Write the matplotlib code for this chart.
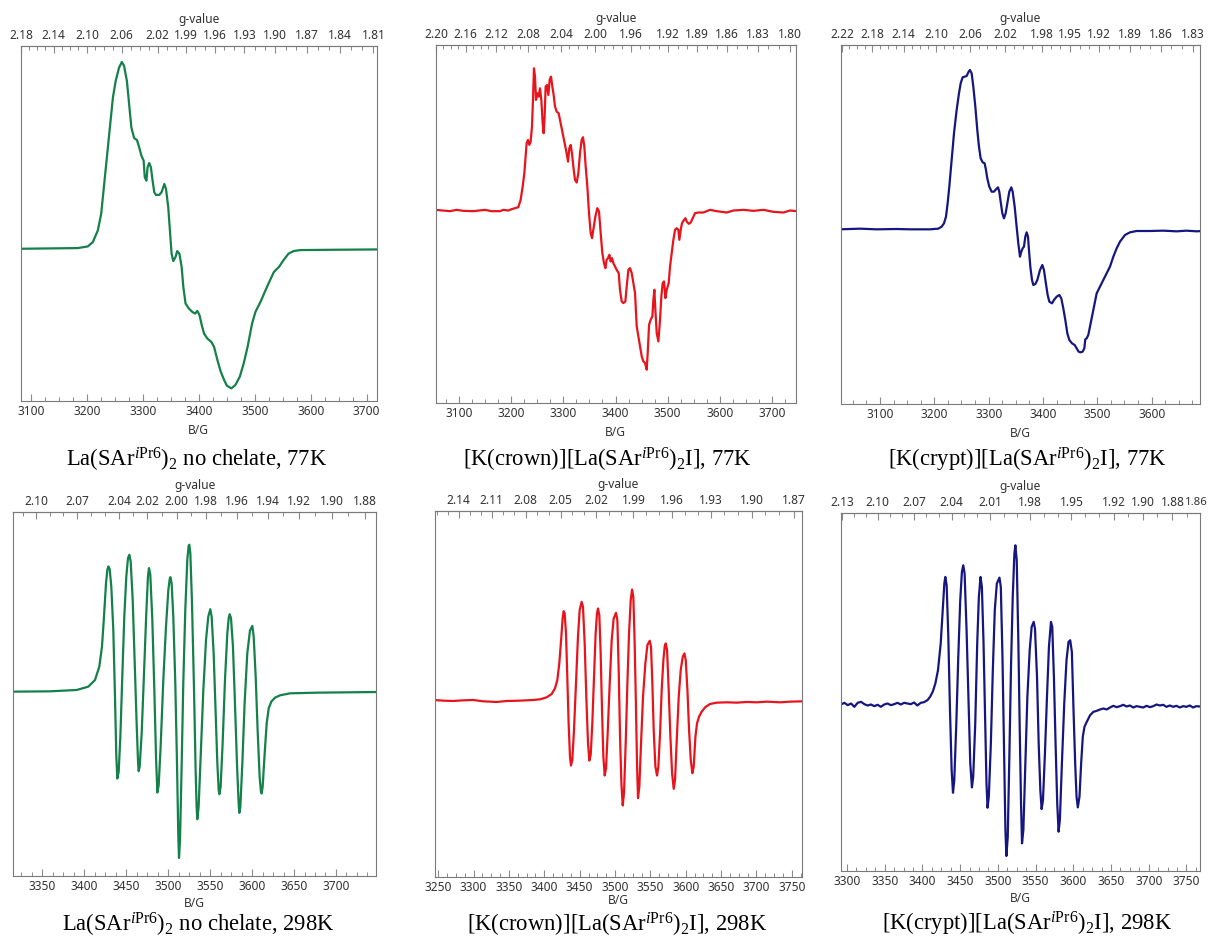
import numpy as np
import matplotlib
matplotlib.use("Agg")
import matplotlib.pyplot as plt
from matplotlib.ticker import MultipleLocator, FixedLocator, FormatStrFormatter

plt.rcParams['font.family'] = ['Noto Sans', 'DejaVu Sans']
plt.rcParams['mathtext.fontset'] = 'custom'
plt.rcParams['mathtext.rm'] = 'Liberation Serif'
plt.rcParams['mathtext.it'] = 'Liberation Serif:italic'
plt.rcParams['mathtext.bf'] = 'Liberation Serif:bold'

# ---------------- data (field in G, derivative signal in arbitrary units) ----------------
p1_field = [3080, 3183, 3201, 3210, 3219, 3225, 3231, 3237, 3240, 3246, 3251, 3257, 3262, 3266, 3271, 3275,
            3279, 3284, 3289, 3293, 3297, 3301, 3303, 3306, 3308, 3311, 3314, 3317, 3320, 3323, 3329, 3333,
            3338, 3341, 3345, 3348, 3351, 3354, 3358, 3361, 3365, 3369, 3372, 3376, 3382, 3388, 3393, 3397,
            3401, 3405, 3409, 3415, 3422, 3427, 3433, 3439, 3445, 3450, 3458, 3465, 3473, 3480, 3487, 3495,
            3501, 3510, 3519, 3527, 3534, 3543, 3551, 3560, 3569, 3581, 3641, 3720]
p1_signal = [0, 2, 7, 20, 55, 105, 205, 305, 355, 455, 505, 545, 562, 550, 505, 435,
             365, 333, 327, 305, 280, 265, 215, 205, 245, 258, 245, 205, 170, 162, 162, 170,
             195, 180, 125, 55, -15, -37, -25, -7, -15, -55, -115, -165, -180, -190, -195, -187,
             -200, -230, -255, -270, -280, -295, -335, -370, -395, -412, -420, -410, -385, -345, -295, -225,
             -190, -160, -125, -95, -70, -55, -35, -15, -7, -4, -3, -2]

p2_field = [3054, 3069.3, 3082.1, 3094.9, 3107.7, 3126.9, 3149.3, 3162.1, 3178.1, 3184.5,
            3194.1, 3200.5, 3206.9, 3213.3, 3217.8, 3221.7, 3224.9, 3227.4, 3229.3, 3231.9,
            3234.5, 3237.0, 3239.6, 3241.5, 3243.4, 3245.4, 3247.3, 3249.8, 3252.4, 3255.0,
            3257.5, 3260.1, 3262.0, 3263.9, 3265.8, 3268.4, 3271.0, 3273.5, 3276.1, 3278.7,
            3281.2, 3283.8, 3287.0, 3290.8, 3294.7, 3298.5, 3302.3, 3306.2, 3308.8, 3311.3,
            3313.9, 3316.4, 3319.0, 3322.2, 3325.4, 3328.6, 3331.8, 3335.0, 3337.6, 3340.1,
            3342.7, 3345.9, 3349.1, 3352.3, 3354.9, 3357.4, 3361.3, 3365.1, 3368.3, 3371.5,
            3374.7, 3377.9, 3380.5, 3383.0, 3385.6, 3388.2, 3390.7, 3393.3, 3395.8, 3399.0,
            3402.2, 3406.1, 3408.6, 3411.8, 3415.0, 3418.9, 3421.5, 3424.7, 3427.9, 3431.1,
            3434.3, 3437.5, 3440.7, 3443.9, 3447.1, 3450.3, 3453.5, 3456.7, 3459.9, 3461.8,
            3464.4, 3467.6, 3470.8, 3472.7, 3474.6, 3476.5, 3479.1, 3482.3, 3485.5, 3488.0,
            3490.6, 3493.2, 3495.7, 3498.3, 3502.1, 3504.7, 3507.9, 3511.1, 3514.3, 3517.5,
            3520.7, 3522.6, 3525.2, 3527.7, 3531.6, 3534.2, 3536.7, 3540.6, 3544.4, 3548.2,
            3552.7, 3559.1, 3568.7, 3581.5, 3594.3, 3613.5, 3626.4, 3645.6, 3664.8, 3684.0,
            3703.2, 3722.4, 3735.2, 3748]
p2_signal = [2, 0, -2, 2, -1, -2, 2, -2, -2, 2,
             0, 4, 7, 10, 32, 72, 112, 162, 202, 212,
             197, 207, 252, 332, 427, 402, 332, 352, 342, 367,
             332, 262, 232, 282, 372, 377, 347, 392, 402, 372,
             347, 312, 297, 292, 262, 232, 202, 172, 147, 187,
             197, 172, 132, 92, 84, 112, 172, 212, 220, 192,
             132, 72, -8, -68, -83, -58, -18, 7, -3, -68,
             -128, -158, -173, -148, -143, -133, -153, -143, -158, -168,
             -178, -188, -238, -273, -278, -273, -228, -178, -173, -188,
             -218, -248, -348, -378, -408, -438, -453, -458, -478, -428,
             -343, -328, -318, -268, -238, -298, -368, -393, -328, -258,
             -218, -213, -263, -238, -218, -168, -128, -88, -58, -53,
             -58, -88, -58, -38, -28, -23, -33, -40, -36, -23,
             -8, -6, -6, 2, -2, -6, 0, 2, -1, 2,
             -4, -6, 0, -2]

p3_field = [3026, 3063.2, 3093.9, 3130.7, 3155.2, 3192.0, 3207.4, 3213.5, 3217.8, 3221.5,
            3224.5, 3227.6, 3231.9, 3236.2, 3241.1, 3245.4, 3248.5, 3252.1, 3255.8, 3259.5,
            3263.2, 3265.6, 3268.7, 3271.8, 3275.5, 3279.1, 3282.2, 3285.3, 3289.0, 3292.6,
            3295.1, 3297.5, 3301.2, 3305.5, 3309.8, 3313.5, 3317.2, 3319.6, 3322.1, 3325.2,
            3328.2, 3331.3, 3334.4, 3338.0, 3341.7, 3344.2, 3347.9, 3351.5, 3354.6, 3357.7,
            3360.1, 3362.6, 3365.0, 3367.5, 3369.9, 3372.4, 3374.2, 3376.7, 3379.8, 3382.2,
            3385.9, 3389.6, 3394.5, 3398.8, 3401.8, 3404.9, 3408.6, 3411.7, 3416.6, 3420.2,
            3425.2, 3430.1, 3433.7, 3437.4, 3441.1, 3444.8, 3448.5, 3453.4, 3458.3, 3462.0,
            3465.6, 3469.3, 3473.0, 3476.1, 3477.9, 3480.4, 3483.4, 3486.5, 3490.2, 3493.9,
            3498.8, 3504.9, 3511.0, 3517.2, 3523.3, 3529.5, 3535.6, 3541.7, 3550.9, 3560.1,
            3572.4, 3596.9, 3621.5, 3646.0, 3664.4, 3682.8, 3692]
p3_signal = [0, 2, 0, 1, 0, 0, 2, 8, 18, 38,
             78, 128, 208, 288, 358, 408, 438, 456, 458, 460,
             473, 478, 468, 428, 368, 298, 248, 213, 201, 198,
             178, 153, 128, 113, 113, 120, 126, 113, 83, 48,
             33, 48, 78, 113, 126, 113, 68, 8, -42, -82,
             -67, -57, -52, -22, -9, -22, -62, -112, -152, -167,
             -164, -152, -122, -107, -122, -157, -197, -217, -222, -212,
             -202, -197, -207, -237, -272, -312, -332, -342, -347, -357,
             -367, -369, -367, -357, -330, -327, -317, -292, -262, -232,
             -192, -172, -152, -132, -112, -82, -57, -37, -17, -9,
             -5, -5, -4, -6, -4, -6, -5]

p4_field = [3314, 3359.1, 3390.9, 3404.8, 3412.8, 3417.9, 3421.1, 3423.5, 3425.9, 3427.5,
            3428.7, 3430.3, 3432.2, 3434.6, 3436.6, 3438.2, 3439.4, 3441.0, 3443.0, 3445.3,
            3447.7, 3450.1, 3452.1, 3453.7, 3455.3, 3457.7, 3460.0, 3462.4, 3464.0, 3464.8,
            3466.0, 3468.4, 3471.2, 3473.9, 3475.9, 3477.1, 3478.7, 3481.1, 3483.5, 3485.5,
            3487.1, 3488.7, 3491.0, 3494.2, 3497.4, 3500.2, 3501.8, 3502.6, 3504.1, 3506.1,
            3508.5, 3510.5, 3512.1, 3512.9, 3514.1, 3516.1, 3518.0, 3520.4, 3522.8, 3524.4,
            3525.2, 3526.4, 3528.4, 3530.8, 3532.7, 3533.9, 3534.7, 3536.3, 3538.7, 3541.9,
            3545.1, 3547.8, 3550.2, 3551.8, 3554.2, 3556.6, 3558.6, 3560.2, 3561.0, 3562.5,
            3564.9, 3567.7, 3570.5, 3572.1, 3573.3, 3574.9, 3577.2, 3579.6, 3582.0, 3584.0,
            3584.8, 3586.0, 3588.4, 3591.1, 3594.3, 3597.5, 3600.3, 3601.9, 3604.3, 3606.6,
            3609.0, 3610.6, 3611.4, 3612.6, 3615.0, 3617.4, 3619.8, 3622.9, 3627.3, 3633.3,
            3645.2, 3677.0, 3750]
p4_signal = [0, 1, 5, 15, 35, 75, 135, 225, 325, 365,
             375, 367, 315, 185, -15, -195, -260, -240, -135, 45,
             225, 345, 400, 410, 390, 275, 95, -95, -205, -238,
             -225, -125, 55, 235, 345, 370, 350, 215, 5, -195,
             -302, -280, -165, 35, 195, 305, 337, 343, 325, 225,
             25, -215, -435, -498, -445, -215, 25, 245, 395, 437,
             440, 415, 265, 5, -235, -345, -382, -345, -195, 5,
             155, 225, 247, 225, 115, -65, -215, -295, -307, -285,
             -155, 35, 175, 220, 232, 220, 135, -35, -215, -335,
             -363, -345, -215, -35, 115, 183, 197, 165, 45, -115,
             -255, -300, -305, -285, -185, -95, -50, -30, -18, -11,
             -5, -3, -1]

p5_field = [3244, 3257.1, 3271.2, 3285.4, 3299.5, 3313.7, 3332.5, 3346.7, 3365.6, 3384.4,
            3393.9, 3403.3, 3410.4, 3415.1, 3418.4, 3421.2, 3424.1, 3425.9, 3427.4, 3428.8,
            3430.7, 3432.5, 3434.4, 3436.3, 3437.7, 3439.6, 3442.0, 3444.8, 3447.6, 3450.0,
            3452.8, 3454.7, 3457.1, 3459.4, 3461.8, 3463.7, 3465.6, 3467.9, 3470.3, 3472.6,
            3474.5, 3475.9, 3477.8, 3479.7, 3481.6, 3483.5, 3485.4, 3487.3, 3489.6, 3492.5,
            3495.3, 3498.1, 3501.4, 3503.3, 3505.2, 3507.1, 3509.0, 3510.9, 3512.7, 3515.1,
            3517.5, 3519.8, 3522.2, 3524.1, 3525.9, 3527.8, 3529.7, 3531.1, 3532.5, 3534.4,
            3536.8, 3539.6, 3542.9, 3545.8, 3549.1, 3550.9, 3552.8, 3554.7, 3557.1, 3559.4,
            3561.3, 3563.7, 3566.0, 3568.4, 3570.3, 3571.7, 3573.6, 3575.9, 3578.3, 3580.7,
            3583.0, 3584.9, 3587.3, 3590.1, 3592.9, 3595.8, 3598.1, 3600.0, 3602.4, 3604.7,
            3607.1, 3609.4, 3611.3, 3613.7, 3616.0, 3618.9, 3622.6, 3627.4, 3634.4, 3643.9,
            3658.0, 3672.2, 3686.3, 3700.5, 3714.6, 3733.5, 3747.6, 3766]
p5_signal = [2, 0, -1, 1, 2, -2, -4, -1, 0, 2,
             4, 10, 20, 37, 62, 112, 192, 247, 269, 262,
             202, 72, -68, -168, -195, -178, -88, 52, 192, 272,
             297, 282, 172, 12, -128, -180, -163, -68, 72, 202,
             262, 277, 257, 142, -28, -168, -225, -203, -98, 52,
             182, 247, 264, 242, 92, -108, -248, -315, -278, -128,
             52, 202, 302, 334, 312, 172, -28, -188, -293, -258,
             -128, 12, 112, 167, 180, 162, 52, -88, -198, -225,
             -198, -98, 32, 122, 164, 172, 152, 32, -108, -218,
             -265, -238, -118, 12, 92, 132, 142, 122, 32, -88,
             -178, -218, -198, -108, -68, -48, -33, -20, -10, -6,
             -5, -6, -4, -5, -3, -5, -3, -2]

p6_field = [3292, 3296.5, 3300.9, 3305.3, 3309.7, 3314.1, 3318.5, 3322.9, 3327.3, 3331.7,
            3336.1, 3340.5, 3344.9, 3349.3, 3353.7, 3358.1, 3362.6, 3366.9, 3371.3, 3375.7,
            3380.1, 3384.5, 3388.9, 3393.3, 3397.7, 3402.1, 3406.6, 3410.1, 3413.6, 3417.1,
            3420.6, 3424.2, 3426.8, 3429.0, 3430.3, 3432.1, 3434.3, 3436.5, 3438.7, 3440.5,
            3442.2, 3444.9, 3447.5, 3450.1, 3452.3, 3454.1, 3455.9, 3458.5, 3461.2, 3463.4,
            3465.6, 3467.3, 3470.0, 3472.6, 3474.8, 3477.0, 3478.8, 3481.0, 3483.2, 3484.9,
            3486.3, 3488.0, 3490.7, 3493.3, 3495.9, 3498.6, 3502.1, 3503.9, 3506.1, 3508.3,
            3510.0, 3511.3, 3513.1, 3515.3, 3517.5, 3519.7, 3521.9, 3523.2, 3525.0, 3527.2,
            3529.0, 3530.7, 3532.0, 3533.8, 3536.4, 3539.1, 3542.2, 3544.8, 3547.5, 3549.2,
            3551.9, 3554.1, 3556.3, 3558.0, 3559.8, 3562.4, 3565.1, 3567.7, 3570.4, 3572.1,
            3574.3, 3576.5, 3578.7, 3580.5, 3582.2, 3584.9, 3588.0, 3591.0, 3593.7, 3595.9,
            3598.1, 3600.3, 3602.5, 3604.3, 3606.0, 3608.2, 3610.4, 3612.6, 3614.8, 3617.9,
            3622.3, 3626.7, 3631.1, 3635.5, 3639.9, 3644.3, 3648.7, 3653.1, 3657.5, 3661.9,
            3666.3, 3670.7, 3675.1, 3679.5, 3683.9, 3688.4, 3692.8, 3697.2, 3701.6, 3706.0,
            3710.4, 3714.8, 3719.2, 3723.6, 3728.0, 3732.4, 3736.8, 3741.2, 3745.6, 3750.0,
            3754.4, 3758.8, 3763.2, 3772]
p6_signal = [2, 7, 0, 5, -5, 7, 10, 3, -1, 2,
             -3, 1, -5, 2, 5, 0, 3, 7, 2, 7,
             5, 3, 8, -1, 7, 9, 15, 25, 40, 65,
             105, 185, 285, 365, 385, 360, 205, -15, -195, -263,
             -225, -55, 145, 315, 400, 420, 395, 225, 5, -175,
             -247, -215, -55, 185, 325, 385, 355, 185, -55, -235,
             -308, -275, -115, 105, 285, 365, 383, 355, 145, -145,
             -375, -453, -395, -145, 125, 325, 455, 480, 435, 185,
             -75, -295, -415, -375, -175, 25, 165, 235, 250, 230,
             85, -115, -255, -312, -285, -145, 25, 175, 250, 235,
             85, -115, -295, -380, -345, -175, 5, 135, 190, 195,
             160, -15, -175, -275, -307, -275, -175, -95, -65, -50,
             -30, -20, -17, -13, -10, -13, -7, -2, -6, -3,
             1, -4, -1, -7, -3, -5, -7, -2, -6, -3,
             2, -1, 1, -5, -1, -5, -2, -7, -3, -5,
             -1, -7, -3, -5]

# g-value tick labels on the top axes, and the constant h*nu/mu_B (g = K / B)
p1_g_ticks = [2.18, 2.14, 2.10, 2.06, 2.02, 1.99, 1.96, 1.93, 1.90, 1.87, 1.84, 1.81]
p2_g_ticks = [2.20, 2.16, 2.12, 2.08, 2.04, 2.00, 1.96, 1.92, 1.89, 1.86, 1.83, 1.80]
p3_g_ticks = [2.22, 2.18, 2.14, 2.10, 2.06, 2.02, 1.98, 1.95, 1.92, 1.89, 1.86, 1.83]
p4_g_ticks = [2.10, 2.07, 2.04, 2.02, 2.00, 1.98, 1.96, 1.94, 1.92, 1.90, 1.88]
p5_g_ticks = [2.14, 2.11, 2.08, 2.05, 2.02, 1.99, 1.96, 1.93, 1.90, 1.87]
p6_g_ticks = [2.13, 2.10, 2.07, 2.04, 2.01, 1.98, 1.95, 1.92, 1.90, 1.88, 1.86]
g_constants = [6719, 6722, 6727, 7020, 7017, 7015]

captions = [
    r'La(SAr$^{\mathit{i}\mathrm{Pr6}}$)$_{\mathrm{2}}$ no chelate, 77K',
    r'[K(crown)][La(SAr$^{\mathit{i}\mathrm{Pr6}}$)$_{\mathrm{2}}$I], 77K',
    r'[K(crypt)][La(SAr$^{\mathit{i}\mathrm{Pr6}}$)$_{\mathrm{2}}$I], 77K',
    r'La(SAr$^{\mathit{i}\mathrm{Pr6}}$)$_{\mathrm{2}}$ no chelate, 298K',
    r'[K(crown)][La(SAr$^{\mathit{i}\mathrm{Pr6}}$)$_{\mathrm{2}}$I], 298K',
    r'[K(crypt)][La(SAr$^{\mathit{i}\mathrm{Pr6}}$)$_{\mathrm{2}}$I], 298K',
]

GREEN = '#14804a'
RED = '#e8141c'
NAVY = '#161680'

W, H = 1208, 938
fig = plt.figure(figsize=(W / 100, H / 100), dpi=100)
fig.patch.set_facecolor('white')

panels = [
    dict(field=p1_field, sig=p1_signal, g=p1_g_ticks, K=g_constants[0], color=GREEN,
         box=(20.7, 46, 376.7, 401), xlim=(3081, 3718), ylim=(-458, 610), major=100, minor=25,
         cap=(197, 460), edge_g=None, lpad=4),
    dict(field=p2_field, sig=p2_signal, g=p2_g_ticks, K=g_constants[1], color=RED,
         box=(435.7, 45, 795.7, 403), xlim=(3054.7, 3746), ylim=(-578, 497), major=100, minor=25,
         cap=(607, 460), edge_g=None, lpad=4),
    dict(field=p3_field, sig=p3_signal, g=p3_g_ticks, K=g_constants[2], color=NAVY,
         box=(840.7, 45, 1200, 404), xlim=(3027.7, 3689), ylim=(-524, 553), major=100, minor=25,
         cap=(1027, 460), edge_g=None, lpad=4),
    dict(field=p4_field, sig=p4_signal, g=p4_g_ticks, K=g_constants[3], color=GREEN,
         box=(13.3, 512, 376, 876), xlim=(3315.4, 3747.7), ylim=(-552, 538), major=50, minor=12.5,
         cap=(198, 925), edge_g=None, lpad=3),
    dict(field=p5_field, sig=p5_signal, g=p5_g_ticks, K=g_constants[4], color=RED,
         box=(434.7, 511, 801.7, 877), xlim=(3245, 3764), ylim=(-530, 570), major=50, minor=12.5,
         cap=(617, 925), edge_g=None, lpad=0),
    dict(field=p6_field, sig=p6_signal, g=p6_g_ticks[:-1], K=g_constants[5], color=NAVY,
         box=(841, 513, 1200, 871), xlim=(3292, 3768), ylim=(-498, 577), major=50, minor=12.5,
         cap=(1027, 924), edge_g=p6_g_ticks[-1], lpad=3),
]

SPINE = '#7a7a7a'
TICKC = '#8a8a8a'
LABC = '#333333'
FS = 8.6

for i, p in enumerate(panels):
    l, t, r, b = p['box']
    ax = fig.add_axes([l / W, 1 - b / H, (r - l) / W, (b - t) / H])
    ax.plot(p['field'], p['sig'], color=p['color'], lw=1.6, solid_joinstyle='round')
    ax.set_xlim(*p['xlim'])
    ax.set_ylim(*p['ylim'])
    ax.set_yticks([])
    for s in ax.spines.values():
        s.set_color(SPINE)
        s.set_linewidth(0.8)
    ax.xaxis.set_major_locator(MultipleLocator(p['major']))
    ax.xaxis.set_minor_locator(MultipleLocator(p['minor']))
    ax.tick_params(axis='x', which='major', direction='in', length=5, width=0.8, color=TICKC,
                   labelsize=FS, labelcolor=LABC, pad=3)
    ax.tick_params(axis='x', which='minor', direction='in', length=3, width=0.7, color=TICKC)
    ax.set_xlabel('B/G', fontsize=FS, color=LABC, labelpad=p['lpad'])

    K = p['K']

    def fwd(x, K=K):
        x = np.asarray(x, dtype=float)
        with np.errstate(divide='ignore', invalid='ignore'):
            return K / x

    sec = ax.secondary_xaxis('top', functions=(fwd, fwd))
    sec.set_xticks(p['g'])
    sec.xaxis.set_major_formatter(FormatStrFormatter('%.2f'))
    gmin, gmax = min(p['g']) - 0.04, max(p['g']) + 0.03
    minor_g = [round(v, 2) for v in np.arange(gmin, gmax, 0.01)]
    sec.xaxis.set_minor_locator(FixedLocator(minor_g))
    sec.tick_params(axis='x', which='major', direction='in', length=5, width=0.8, color=TICKC,
                    labelsize=FS, labelcolor=LABC, pad=3)
    sec.tick_params(axis='x', which='minor', direction='in', length=3, width=0.7, color=TICKC)
    sec.spines['top'].set_color(SPINE)
    sec.spines['top'].set_linewidth(0.8)
    sec.set_xlabel('g-value', fontsize=FS, color=LABC, labelpad=4)

    if p['edge_g'] is not None:
        # last g label sits right at the frame edge: draw it right-aligned inside the figure
        fig.text((W - 0.5) / W, 1 - (t - 11) / H, '%.2f' % p['edge_g'], ha='right', va='center',
                 fontsize=FS - 0.4, color=LABC)

    cx, cy = p['cap']
    fig.text(cx / W, 1 - cy / H, captions[i], ha='center', va='center', fontsize=16.3,
             family='Liberation Serif', color='black')

fig.savefig('out.png', dpi=100, facecolor='white')
